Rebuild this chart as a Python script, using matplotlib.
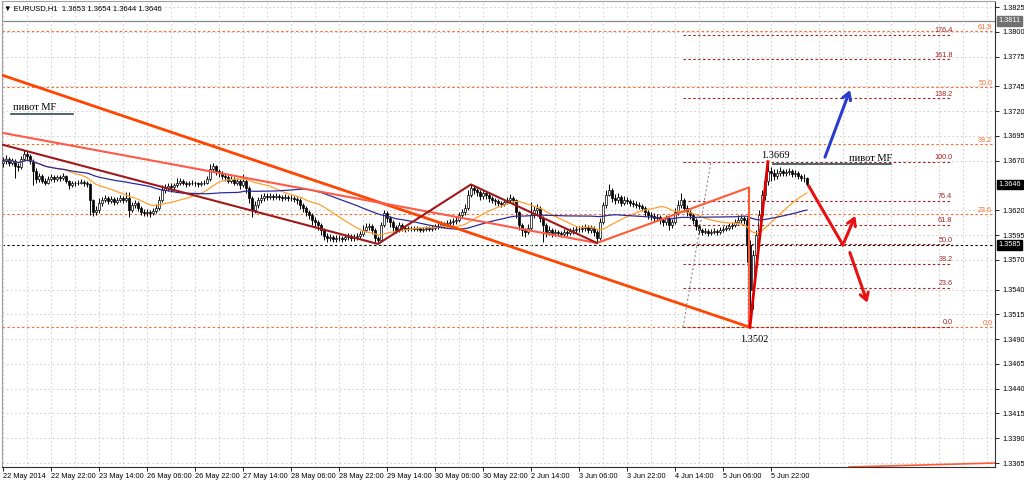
import numpy as np
import pandas as pd
import matplotlib
matplotlib.use('Agg')
import matplotlib.pyplot as plt
from matplotlib import transforms
from matplotlib.ticker import FixedLocator, MultipleLocator

# EURUSD H1, 22 May 2014 - 6 Jun 2014 (바 번호 기준)
first_open = 1.3668
closes = [
    1.3670, 1.3672, 1.3668, 1.3670, 1.3665, 1.3664, 1.3672, 1.3677,
    1.3675, 1.3670, 1.3660, 1.3652, 1.3655, 1.3650, 1.3648, 1.3652,
    1.3654, 1.3652, 1.3654, 1.3653, 1.3655, 1.3650, 1.3645, 1.3647,
    1.3647, 1.3648, 1.3649, 1.3647, 1.3646, 1.3630, 1.3618, 1.3620,
    1.3627, 1.3630, 1.3632, 1.3629, 1.3631, 1.3628, 1.3630, 1.3632,
    1.3630, 1.3632, 1.3620, 1.3625, 1.3627, 1.3622, 1.3618, 1.3617,
    1.3618, 1.3617, 1.3619, 1.3622, 1.3630, 1.3640, 1.3642, 1.3644,
    1.3643, 1.3645, 1.3647, 1.3650, 1.3648, 1.3646, 1.3647, 1.3648,
    1.3647, 1.3646, 1.3647, 1.3648, 1.3652, 1.3662, 1.3665, 1.3660,
    1.3658, 1.3655, 1.3654, 1.3650, 1.3652, 1.3648, 1.3650, 1.3645,
    1.3650, 1.3642, 1.3632, 1.3620, 1.3625, 1.3630, 1.3632, 1.3634,
    1.3633, 1.3634, 1.3633, 1.3634, 1.3633, 1.3632, 1.3633, 1.3632,
    1.3632, 1.3631, 1.3630, 1.3625, 1.3622, 1.3618, 1.3615, 1.3610,
    1.3608, 1.3605, 1.3600, 1.3594, 1.3592, 1.3593, 1.3591, 1.3592,
    1.3592, 1.3591, 1.3593, 1.3594, 1.3592, 1.3593, 1.3594, 1.3596,
    1.3600, 1.3603, 1.3604, 1.3600, 1.3592, 1.3590, 1.3605, 1.3617,
    1.3612, 1.3608, 1.3603, 1.3600, 1.3605, 1.3602, 1.3601, 1.3602,
    1.3602, 1.3601, 1.3602, 1.3600, 1.3601, 1.3602, 1.3601, 1.3602,
    1.3603, 1.3604, 1.3606, 1.3605, 1.3607, 1.3608, 1.3609, 1.3610,
    1.3615, 1.3618, 1.3622, 1.3635, 1.3642, 1.3640, 1.3638, 1.3634,
    1.3637, 1.3635, 1.3632, 1.3630, 1.3629, 1.3627, 1.3626, 1.3628,
    1.3630, 1.3632, 1.3630, 1.3618, 1.3605, 1.3600, 1.3598, 1.3602,
    1.3615, 1.3620, 1.3622, 1.3612, 1.3605, 1.3598, 1.3600, 1.3597,
    1.3598, 1.3597, 1.3596, 1.3598, 1.3597, 1.3599, 1.3600, 1.3601,
    1.3601, 1.3602, 1.3603, 1.3600, 1.3602, 1.3598, 1.3592, 1.3608,
    1.3625, 1.3635, 1.3640, 1.3632, 1.3630, 1.3633, 1.3627, 1.3630,
    1.3629, 1.3627, 1.3626, 1.3625, 1.3624, 1.3622, 1.3618, 1.3615,
    1.3614, 1.3612, 1.3613, 1.3610, 1.3608, 1.3612, 1.3605, 1.3608,
    1.3618, 1.3625, 1.3630, 1.3622, 1.3618, 1.3615, 1.3610, 1.3604,
    1.3600, 1.3598, 1.3599, 1.3597, 1.3598, 1.3599, 1.3598, 1.3600,
    1.3601, 1.3602, 1.3604, 1.3605, 1.3608, 1.3610, 1.3612, 1.3610,
    1.3585, 1.3540, 1.3575, 1.3595, 1.3615, 1.3635, 1.3650, 1.3660,
    1.3658, 1.3655, 1.3658, 1.3660, 1.3658, 1.3659, 1.3660, 1.3657,
    1.3658, 1.3655, 1.3653, 1.3653, 1.3646,
]
highs = [
    1.3674, 1.3676, 1.3674, 1.3673, 1.3672, 1.3668, 1.3675, 1.3681,
    1.3680, 1.3677, 1.3672, 1.3663, 1.3658, 1.3657, 1.3653, 1.3655,
    1.3657, 1.3656, 1.3656, 1.3656, 1.3658, 1.3656, 1.3651, 1.3650,
    1.3650, 1.3651, 1.3652, 1.3651, 1.3650, 1.3647, 1.3631, 1.3624,
    1.3632, 1.3633, 1.3635, 1.3634, 1.3634, 1.3633, 1.3633, 1.3635,
    1.3634, 1.3638, 1.3638, 1.3628, 1.3630, 1.3629, 1.3624, 1.3621,
    1.3621, 1.3620, 1.3622, 1.3626, 1.3634, 1.3645, 1.3646, 1.3648,
    1.3647, 1.3648, 1.3653, 1.3653, 1.3652, 1.3650, 1.3650, 1.3651,
    1.3650, 1.3649, 1.3650, 1.3651, 1.3655, 1.3667, 1.3668, 1.3666,
    1.3662, 1.3660, 1.3658, 1.3656, 1.3655, 1.3654, 1.3653, 1.3652,
    1.3657, 1.3652, 1.3644, 1.3634, 1.3629, 1.3633, 1.3636, 1.3637,
    1.3637, 1.3637, 1.3636, 1.3637, 1.3636, 1.3635, 1.3636, 1.3635,
    1.3635, 1.3634, 1.3633, 1.3632, 1.3627, 1.3624, 1.3620, 1.3617,
    1.3613, 1.3610, 1.3607, 1.3602, 1.3597, 1.3596, 1.3595, 1.3595,
    1.3595, 1.3594, 1.3596, 1.3597, 1.3596, 1.3596, 1.3597, 1.3599,
    1.3605, 1.3607, 1.3607, 1.3606, 1.3602, 1.3594, 1.3608, 1.3620,
    1.3619, 1.3614, 1.3610, 1.3605, 1.3608, 1.3607, 1.3604, 1.3604,
    1.3604, 1.3604, 1.3604, 1.3603, 1.3603, 1.3604, 1.3604, 1.3605,
    1.3606, 1.3607, 1.3609, 1.3608, 1.3610, 1.3611, 1.3612, 1.3613,
    1.3618, 1.3621, 1.3626, 1.3640, 1.3646, 1.3645, 1.3642, 1.3640,
    1.3640, 1.3639, 1.3637, 1.3634, 1.3632, 1.3631, 1.3629, 1.3631,
    1.3633, 1.3636, 1.3634, 1.3631, 1.3619, 1.3607, 1.3602, 1.3606,
    1.3628, 1.3624, 1.3626, 1.3624, 1.3614, 1.3607, 1.3604, 1.3602,
    1.3601, 1.3600, 1.3599, 1.3601, 1.3600, 1.3602, 1.3603, 1.3604,
    1.3604, 1.3605, 1.3606, 1.3605, 1.3605, 1.3604, 1.3600, 1.3612,
    1.3628, 1.3640, 1.3646, 1.3642, 1.3636, 1.3637, 1.3635, 1.3634,
    1.3633, 1.3631, 1.3630, 1.3629, 1.3628, 1.3626, 1.3624, 1.3620,
    1.3618, 1.3617, 1.3616, 1.3615, 1.3612, 1.3615, 1.3614, 1.3611,
    1.3622, 1.3630, 1.3637, 1.3632, 1.3625, 1.3620, 1.3617, 1.3612,
    1.3606, 1.3602, 1.3602, 1.3601, 1.3601, 1.3602, 1.3601, 1.3603,
    1.3604, 1.3605, 1.3607, 1.3608, 1.3611, 1.3615, 1.3615, 1.3614,
    1.3613, 1.3590, 1.3580, 1.3600, 1.3620, 1.3640, 1.3655, 1.3669,
    1.3664, 1.3662, 1.3662, 1.3664, 1.3662, 1.3662, 1.3663, 1.3662,
    1.3661, 1.3660, 1.3657, 1.3657, 1.3654,
]
lows = [
    1.3664, 1.3667, 1.3665, 1.3666, 1.3653, 1.3660, 1.3662, 1.3670,
    1.3671, 1.3667, 1.3645, 1.3648, 1.3649, 1.3647, 1.3645, 1.3646,
    1.3650, 1.3649, 1.3650, 1.3650, 1.3651, 1.3647, 1.3641, 1.3643,
    1.3644, 1.3645, 1.3646, 1.3644, 1.3643, 1.3615, 1.3614, 1.3615,
    1.3617, 1.3624, 1.3628, 1.3626, 1.3627, 1.3625, 1.3626, 1.3628,
    1.3627, 1.3628, 1.3613, 1.3618, 1.3622, 1.3619, 1.3615, 1.3614,
    1.3614, 1.3613, 1.3615, 1.3617, 1.3620, 1.3628, 1.3637, 1.3639,
    1.3638, 1.3640, 1.3643, 1.3645, 1.3645, 1.3643, 1.3644, 1.3645,
    1.3644, 1.3643, 1.3644, 1.3645, 1.3646, 1.3650, 1.3659, 1.3656,
    1.3654, 1.3652, 1.3650, 1.3647, 1.3648, 1.3645, 1.3645, 1.3641,
    1.3643, 1.3637, 1.3627, 1.3613, 1.3617, 1.3622, 1.3627, 1.3629,
    1.3630, 1.3631, 1.3630, 1.3631, 1.3630, 1.3629, 1.3630, 1.3629,
    1.3629, 1.3628, 1.3626, 1.3621, 1.3618, 1.3614, 1.3611, 1.3605,
    1.3603, 1.3600, 1.3595, 1.3590, 1.3588, 1.3589, 1.3588, 1.3588,
    1.3589, 1.3588, 1.3589, 1.3590, 1.3589, 1.3589, 1.3590, 1.3591,
    1.3594, 1.3598, 1.3600, 1.3596, 1.3588, 1.3586, 1.3589, 1.3603,
    1.3608, 1.3603, 1.3598, 1.3597, 1.3598, 1.3599, 1.3598, 1.3599,
    1.3599, 1.3599, 1.3599, 1.3598, 1.3598, 1.3599, 1.3599, 1.3599,
    1.3600, 1.3601, 1.3602, 1.3602, 1.3603, 1.3604, 1.3605, 1.3606,
    1.3608, 1.3612, 1.3615, 1.3620, 1.3633, 1.3636, 1.3634, 1.3630,
    1.3631, 1.3631, 1.3628, 1.3627, 1.3625, 1.3624, 1.3623, 1.3624,
    1.3626, 1.3628, 1.3626, 1.3612, 1.3600, 1.3594, 1.3593, 1.3596,
    1.3600, 1.3612, 1.3616, 1.3608, 1.3588, 1.3593, 1.3595, 1.3593,
    1.3594, 1.3594, 1.3593, 1.3594, 1.3594, 1.3595, 1.3596, 1.3597,
    1.3598, 1.3598, 1.3599, 1.3597, 1.3597, 1.3594, 1.3587, 1.3590,
    1.3606, 1.3622, 1.3634, 1.3628, 1.3626, 1.3627, 1.3624, 1.3625,
    1.3626, 1.3624, 1.3623, 1.3622, 1.3621, 1.3619, 1.3614, 1.3611,
    1.3610, 1.3608, 1.3609, 1.3606, 1.3604, 1.3605, 1.3600, 1.3602,
    1.3606, 1.3615, 1.3622, 1.3618, 1.3614, 1.3611, 1.3606, 1.3600,
    1.3596, 1.3595, 1.3596, 1.3594, 1.3595, 1.3596, 1.3595, 1.3596,
    1.3598, 1.3599, 1.3600, 1.3601, 1.3603, 1.3606, 1.3607, 1.3606,
    1.3568, 1.3502, 1.3520, 1.3565, 1.3585, 1.3610, 1.3630, 1.3645,
    1.3650, 1.3651, 1.3652, 1.3655, 1.3655, 1.3655, 1.3656, 1.3654,
    1.3654, 1.3652, 1.3650, 1.3649, 1.3644,
]

tick_bars = [0, 16, 32, 48, 64, 80, 96, 112, 128, 144, 160, 176, 192, 208, 224, 240, 256]
tick_dates = ['22 May 2014', '22 May 22:00', '23 May 14:00', '26 May 06:00', '26 May 22:00',
              '27 May 14:00', '28 May 06:00', '28 May 22:00', '29 May 14:00', '30 May 06:00',
              '30 May 22:00', '2 Jun 14:00', '3 Jun 06:00', '3 Jun 22:00', '4 Jun 14:00',
              '5 Jun 06:00', '5 Jun 22:00']
price_ticks = [1.3825, 1.3800, 1.3775, 1.3745, 1.3720, 1.3695, 1.3670, 1.3620, 1.3595,
               1.3570, 1.3540, 1.3515, 1.3490, 1.3465, 1.3440, 1.3415, 1.3390, 1.3365]

# 피보나치 (작은 것: 1.3502 -> 1.3669, 큰 것: 1.3502 -> 1.3986)
fib_low, fib_high = 1.3502, 1.3669
fib_levels = [0.0, 23.6, 38.2, 50.0, 61.8, 76.4, 100.0, 138.2, 161.8, 176.4]
big_fib_low, big_fib_high = 1.3502, 1.3986
big_fib_levels = [0.0, 23.6, 38.2, 50.0, 61.8]

# 추세선 (바, 가격)
long_line = ([0, 249], [1.3756, 1.3502])
thin_line = ([0, 198], [1.3698, 1.3587])
wedge_line = ([198, 248.7, 248.7, 249], [1.3587, 1.3643, 1.3503, 1.3502])
zigzag_dark = ([0, 125, 156, 198], [1.3686, 1.3586, 1.3646, 1.3587])
spike_line = ([249, 255], [1.3502, 1.3669])
fib_base = ([226.7, 236], [1.3502, 1.3669])
bottom_line = ([282, 330.5], [1.3361, 1.3365])
red_leg = ([268.7, 280], [1.3644, 1.3585])
red_up = ([280, 284.5], [1.3585, 1.3617])
red_down = ([282, 288.5], [1.3580, 1.3524])
blue_up = ([273.7, 282.7], [1.3671, 1.3744])
pivot_left = ([2.7, 23.3], 1.3717)
pivot_right = ([256.7, 296], 1.3667)
bid_price = 1.3646
hline_black = 1.3585
hline_grey = 1.3811

axis_font = 'Liberation Sans'

fig = plt.figure(figsize=(10.24, 4.82), dpi=100)
ax = fig.add_axes([2/1024, 1-467/482, 993/1024, 466/482])
ax.set_xlim(-0.33, 330.7)
ax.set_ylim(1.3361, 1.38311)

x = np.arange(len(closes))
c = np.array(closes)
o = np.array([first_open] + closes[:-1])
up = c >= o

# 그리드
ax.yaxis.set_major_locator(FixedLocator(price_ticks))
ax.xaxis.set_major_locator(FixedLocator(tick_bars))
ax.xaxis.set_minor_locator(MultipleLocator(8))
ax.grid(True, which='both', axis='x', color='#c8c8c8', ls=(0, (2, 3)), lw=0.6, zorder=0)
ax.grid(True, which='major', axis='y', color='#c8c8c8', ls=(0, (2, 3)), lw=0.6, zorder=0)

# 수평선
dot = (0, (2.2, 2.2))
for lv in big_fib_levels:
    p = big_fib_low + (big_fib_high - big_fib_low) * lv / 100
    ax.plot([-0.33, 330.7], [p, p], color='#ff6a2a', ls=dot, lw=0.8, zorder=1)
    ax.text(329.8, p, '%.1f' % lv, color='#ff6a2a', fontsize=5.2, family=axis_font,
            ha='right', va='bottom')
ax.axhline(hline_black, color='black', ls=dot, lw=0.8, zorder=1)
ax.axhline(hline_grey, color='#888888', lw=0.9, zorder=1)
for lv in fib_levels:
    p = fib_low + (fib_high - fib_low) * lv / 100
    ax.plot([226.7, 316.5], [p, p], color='#a02020', ls=dot, lw=0.8, zorder=1)
    ax.text(316.5, p + 0.00008, '%.1f' % lv, color='#a02020', fontsize=5.2, family=axis_font,
            ha='right', va='bottom')

# 캔들
ax.vlines(x, lows, highs, color='black', lw=0.7, zorder=3)
ax.bar(x[up], c[up] - o[up], bottom=o[up], width=0.62, color='white',
       edgecolor='black', lw=0.5, zorder=4)
ax.bar(x[~up], o[~up] - c[~up], bottom=c[~up], width=0.62, color='black',
       edgecolor='black', lw=0.5, zorder=4)

# 이동평균
s = pd.Series(closes)
ax.plot(x, s.rolling(21, min_periods=1).mean(), color='#ffa030', lw=0.9, zorder=5)
ax.plot(x, s.rolling(50, min_periods=1).mean(), color='#2b2b9a', lw=0.9, zorder=5)

# 추세선들
ax.plot(*long_line, color='#ff4500', lw=2, zorder=6)
ax.plot(*thin_line, color='#ff5a48', lw=1.5, zorder=6)
ax.plot(*wedge_line, color='#ff5a36', lw=1.5, zorder=6)
ax.plot(*zigzag_dark, color='#a01818', lw=1.5, zorder=6)
ax.plot(*spike_line, color='#e00000', lw=2, zorder=6)
ax.plot(*fib_base, color='#909090', ls=(0, (2, 2)), lw=0.8, zorder=6)
ax.plot(*bottom_line, color='#ff5a36', lw=1.2, zorder=6)

ax.plot(*red_leg, color='#e81010', lw=2.2, zorder=7)
for seg in (red_up, red_down):
    ax.annotate('', xy=(seg[0][1], seg[1][1]), xytext=(seg[0][0], seg[1][0]),
                arrowprops=dict(arrowstyle='->,head_length=0.5,head_width=0.3',
                                color='#e81010', lw=2.2), zorder=7)
ax.annotate('', xy=(blue_up[0][1], blue_up[1][1]), xytext=(blue_up[0][0], blue_up[1][0]),
            arrowprops=dict(arrowstyle='->,head_length=0.5,head_width=0.3',
                            color='#2a3bd0', lw=2.2), zorder=7)

# 피벗 라벨
ax.plot(pivot_left[0], [pivot_left[1]] * 2, color='#2f4f4f', lw=1.2, zorder=7)
ax.text(pivot_left[0][0] + 0.7, pivot_left[1] + 0.0002, 'пивот MF', fontsize=7.5,
        family='Liberation Serif', va='bottom', ha='left', zorder=8)
ax.plot(pivot_right[0], [pivot_right[1]] * 2, color='#2f4f4f', lw=1.2, zorder=7)
ax.text(282, pivot_right[1] + 0.0001, 'пивот MF', fontsize=7.5,
        family='Liberation Serif', va='bottom', ha='left', zorder=8)
ax.text(252.7, 1.3671, '1.3669', fontsize=7.5, family='Liberation Serif', va='bottom', zorder=8)
ax.text(245.7, 1.3494, '1.3502', fontsize=7.5, family='Liberation Serif', va='top', zorder=8)

# 축
ax.yaxis.tick_right()
ax.tick_params(axis='y', labelsize=5.3, length=3, pad=2, width=0.6)
ax.tick_params(axis='x', labelsize=5.3, length=3, pad=1.5, width=0.6)
ax.tick_params(axis='x', which='minor', length=0)
ax.set_yticklabels(['%.4f' % t for t in price_ticks], family=axis_font)
ax.set_xticklabels(tick_dates, ha='left', family=axis_font)
for side in ('top', 'left'):
    ax.spines[side].set_color('#a0a0a0')
for side in ('bottom', 'right'):
    ax.spines[side].set_color('#303030')
for sp in ax.spines.values():
    sp.set_linewidth(0.8)

trans = transforms.blended_transform_factory(ax.transAxes, ax.transData)
for val, fc in ((bid_price, 'black'), (hline_black, 'black'), (hline_grey, '#707070')):
    ax.text(1.0035, val, '%.4f' % val, transform=trans, fontsize=5.3, family=axis_font,
            color='white', va='center', ha='left', clip_on=False, zorder=10,
            bbox=dict(boxstyle='square,pad=0.2', fc=fc, ec=fc))

ax.text(0.002, 0.992, '\u25bc EURUSD,H1  1.3653 1.3654 1.3644 1.3646', transform=ax.transAxes,
        fontsize=5.5, family=[axis_font, 'DejaVu Sans'], va='top', ha='left', zorder=10)

fig.savefig('out.png', dpi=100)
